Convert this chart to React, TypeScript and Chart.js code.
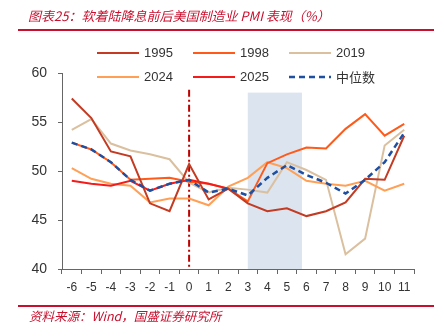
import React, { useEffect, useRef } from "react";
import { Chart, registerables } from "chart.js";

Chart.register(...registerables);

const categories = ["-6", "-5", "-4", "-3", "-2", "-1", "0", "1", "2", "3", "4", "5", "6", "7", "8", "9", "10", "11"];

const s1995 = [57.4, 55.4, 52.0, 51.5, 46.7, 45.9, 50.7, 47.1, 48.2, 46.7, 45.9, 46.2, 45.4, 45.9, 46.8, 49.2, 49.1, 53.6];
const s1998 = [52.9, 52.2, 50.9, 49.1, 49.2, 49.3, 48.9, 48.7, 48.2, 46.9, 50.8, 51.7, 52.4, 52.3, 54.3, 55.8, 53.6, 54.8];
const s2019 = [54.2, 55.3, 52.8, 52.1, 51.7, 51.2, 48.8, 47.8, 48.3, 48.1, 47.8, 50.9, 50.1, 49.1, 41.5, 43.1, 52.6, 54.2];
const s2024 = [50.3, 49.2, 48.7, 48.5, 46.8, 47.2, 47.2, 46.5, 48.4, 49.3, 50.9, 50.3, 49.0, 48.7, 48.5, 49.0, 48.0, 48.7];
const s2025 = [49.0, 48.7, 48.5, 49.0, 48.0, 48.7, 49.1, 48.7, 48.2, null, null, null, null, null, null, null, null, null];
const sMedian = [52.9, 52.2, 50.9, 49.1, 48.0, 48.7, 49.1, 47.8, 48.2, 47.5, 49.3, 50.6, 49.6, 48.8, 47.7, 49.1, 50.9, 53.9];

const yMin = 40;
const yMax = 60;
const yStep = 5;

// shaded window (from month "3" to about 3/4 past month "5") and cut marker at month "0"
const BAND_FROM_LABEL = "3";
const BAND_TO_LABEL = "5";
const BAND_TO_EXTRA = 0.77;
const BAND_TOP = 58;
const CUT_LABEL = "0";
const CUT_TOP = 58.3;

const C1995 = "#C33B22";
const C1998 = "#FF5A1A";
const C2019 = "#DBC0A0";
const C2024 = "#FFA056";
const C2025 = "#F51B1B";
const CMED = "#1F4FA0";
const RED = "#C8102E";

const FONT = "'Liberation Sans', Arial, sans-serif";
const CJK = "'Noto Sans CJK SC', sans-serif";

const legendItems = [
  { label: "1995", color: C1995, dash: false, col: 0, row: 0 },
  { label: "1998", color: C1998, dash: false, col: 1, row: 0 },
  { label: "2019", color: C2019, dash: false, col: 2, row: 0 },
  { label: "2024", color: C2024, dash: false, col: 0, row: 1 },
  { label: "2025", color: C2025, dash: false, col: 1, row: 1 },
  { label: "中位数", color: CMED, dash: true, col: 2, row: 1 },
];

export default function App() {
  const ref = useRef<HTMLCanvasElement>(null);

  useEffect(() => {
    if (!ref.current) return;
    const overlay = {
      id: "bandAndCut",
      beforeDatasetsDraw(chart: any) {
        const { ctx, chartArea } = chart;
        const x = chart.scales.x;
        const y = chart.scales.y;
        ctx.save();
        const x0 = x.getPixelForValue(categories.indexOf(BAND_FROM_LABEL));
        const x1 = x.getPixelForValue(categories.indexOf(BAND_TO_LABEL) + BAND_TO_EXTRA);
        const yt = y.getPixelForValue(BAND_TOP);
        ctx.fillStyle = "#DCE4F0";
        ctx.fillRect(x0, yt, x1 - x0, chartArea.bottom - yt);
        const xc = x.getPixelForValue(categories.indexOf(CUT_LABEL));
        ctx.strokeStyle = "#C00000";
        ctx.lineWidth = 2;
        ctx.setLineDash([7, 3, 2, 3]);
        ctx.beginPath();
        ctx.moveTo(xc, y.getPixelForValue(CUT_TOP));
        ctx.lineTo(xc, chartArea.bottom);
        ctx.stroke();
        ctx.restore();
      },
    };

    const line = (label: string, data: (number | null)[], color: string, order: number, extra: any = {}) => ({
      label,
      data,
      borderColor: color,
      backgroundColor: color,
      borderWidth: 2,
      pointRadius: 0,
      tension: 0,
      spanGaps: false,
      order,
      ...extra,
    });

    const chart = new Chart(ref.current, {
      type: "line",
      data: {
        labels: categories,
        datasets: [
          line("中位数", sMedian, CMED, 0, { borderDash: [6, 4], borderWidth: 2.5 }),
          line("1995", s1995, C1995, 1),
          line("2025", s2025, C2025, 2),
          line("1998", s1998, C1998, 3),
          line("2024", s2024, C2024, 4),
          line("2019", s2019, C2019, 5),
        ],
      },
      options: {
        responsive: false,
        maintainAspectRatio: false,
        animation: false,
        layout: { padding: { left: 0, right: 30, top: 73, bottom: 0 } },
        plugins: { legend: { display: false }, tooltip: { enabled: false }, title: { display: false } },
        scales: {
          x: {
            type: "category",
            offset: true,
            grid: { offset: true, drawOnChartArea: false, drawTicks: true, tickLength: 5, color: "#666" },
            border: { color: "#666", width: 1 },
            ticks: { color: "#333", font: { family: FONT, size: 12 }, padding: 6, maxRotation: 0, autoSkip: false },
            afterFit: (s: any) => {
              s.height = 67;
            },
          },
          y: {
            min: yMin,
            max: yMax,
            ticks: { stepSize: yStep, color: "#333", font: { family: FONT, size: 14 }, padding: 11 },
            grid: { drawOnChartArea: false, drawTicks: true, tickLength: 4, color: "#666" },
            border: { color: "#666", width: 1 },
            afterFit: (s: any) => {
              s.width = 62;
            },
          },
        },
      },
      plugins: [overlay],
    });
    return () => chart.destroy();
  }, []);

  const colX = [97, 193, 289];
  const rowY = [52.5, 77];

  return (
    <div style={{ position: "fixed", left: 0, top: 0, width: 444, height: 336, background: "#fff", overflow: "hidden" }}>
      <canvas ref={ref} width={444} height={336} style={{ position: "absolute", left: 0, top: 0, display: "block" }} />
      <div
        style={{
          position: "absolute",
          left: 28,
          top: 7,
          fontFamily: CJK,
          fontStyle: "italic",
          fontSize: 13,
          lineHeight: "18px",
          color: RED,
          whiteSpace: "nowrap",
        }}
      >
        图表25：软着陆降息前后美国制造业 PMI 表现（%）
      </div>
      <div style={{ position: "absolute", left: 18, top: 29, width: 416, height: 2, background: RED }} />
      {legendItems.map((it) => (
        <div key={it.label} style={{ position: "absolute", left: colX[it.col], top: rowY[it.row] - 10, height: 20, display: "flex", alignItems: "center" }}>
          <svg width={42} height={4} style={{ display: "block" }}>
            <line x1={0} y1={2} x2={42} y2={2} stroke={it.color} strokeWidth={it.dash ? 2.5 : 2} strokeDasharray={it.dash ? "6 4" : undefined} />
          </svg>
          <span
            style={{
              marginLeft: 5,
              fontFamily: it.dash ? CJK : FONT,
              fontSize: 13,
              color: "#333",
              whiteSpace: "nowrap",
              lineHeight: "20px",
            }}
          >
            {it.label}
          </span>
        </div>
      ))}
      <div style={{ position: "absolute", left: 18, top: 305, width: 416, height: 2, background: RED }} />
      <div
        style={{
          position: "absolute",
          left: 29,
          top: 307,
          fontFamily: CJK,
          fontStyle: "italic",
          fontSize: 12.5,
          lineHeight: "17px",
          color: RED,
          whiteSpace: "nowrap",
        }}
      >
        资料来源：Wind，国盛证券研究所
      </div>
    </div>
  );
}
